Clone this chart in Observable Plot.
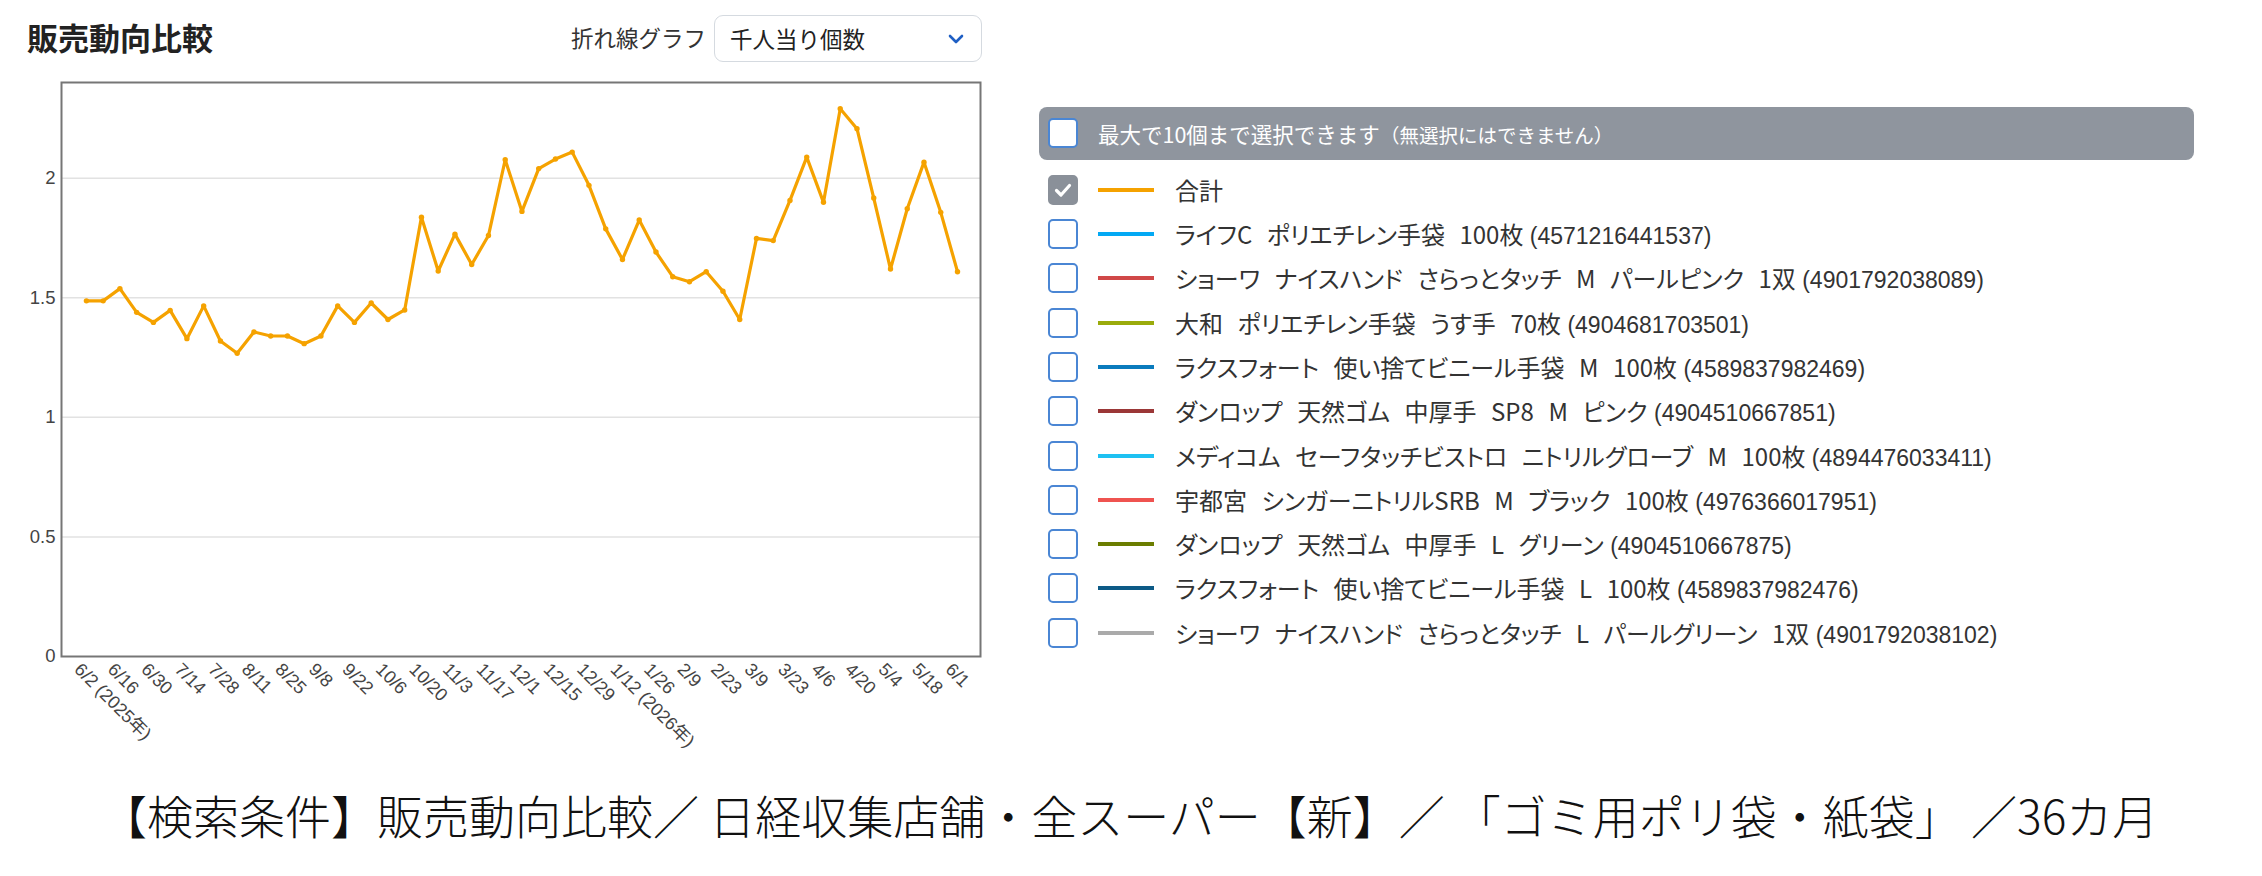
<!DOCTYPE html>
<html lang="ja">
<head>
<meta charset="utf-8">
<script src="https://cdn.jsdelivr.net/npm/d3@7"></script>
<script src="https://cdn.jsdelivr.net/npm/@observablehq/plot@0.6"></script>
<style>
  html, body { margin: 0; padding: 0; background: #fff; }
  body { width: 2262px; height: 876px; position: relative; overflow: hidden;
         font-family: "Noto Sans CJK JP", "Noto Sans", sans-serif; color: #222; }
  .abs { position: absolute; }
  #title { left: 27px; top: 21px; font-size: 31px; font-weight: 700; line-height: 31px; color: #222; white-space: nowrap; }
  #ctlLabel { left: 571px; top: 25px; font-size: 22.5px; line-height: 24px; color: #333; white-space: nowrap; }
  #select { left: 714px; top: 15px; width: 268px; height: 47px; box-sizing: border-box;
            border: 1.5px solid #d5dae0; border-radius: 9px; background: #fff; }
  #select span { position: absolute; left: 15px; top: 10px; font-size: 22.5px; line-height: 24px; color: #222; white-space: nowrap; }
  #select svg { position: absolute; left: 233px; top: 17px; }
  #chart { left: 0; top: 0; }
  #legendHead { left: 1039px; top: 107px; width: 1155px; height: 53px; background: #8f959e; border-radius: 8px; }
  .cb { position: absolute; width: 30px; height: 30px; box-sizing: border-box; border: 2px solid #4a86d4;
        border-radius: 5px; background: #fff; }
  .cb.on { background: #8a9099; border-color: #8a9099; }
  #legendHead .cb { left: 9px; top: 11px; }
  #legendHead .txt { position: absolute; left: 59px; top: 12px; font-size: 21.5px; line-height: 30px; color: #fff; white-space: nowrap; }
  #legendHead .txt small { font-size: 19.5px; }
  .lrow { position: absolute; left: 1048px; height: 30px; width: 1150px; }
  .lrow .cb { left: 0; top: 0; }
  .lrow .sw { position: absolute; left: 50px; top: 13px; width: 56px; height: 4px; }
  .lrow .txt { position: absolute; left: 127px; top: 0; font-size: 24px; line-height: 30px; color: #333; white-space: nowrap;
               font-feature-settings: "palt" 1; }
  .lrow .txt .gap { display: inline-block; width: 14.5px; }
  .lrow .txt .code { font-family: "Liberation Sans", Arial, sans-serif; font-size: 23px; font-feature-settings: normal; }
  #caption { left: 101px; top: 788px; font-size: 46px; line-height: 52px; color: #111; white-space: nowrap; font-weight: 300; }
</style>
</head>
<body>
<div id="title" class="abs">販売動向比較</div>
<div id="ctlLabel" class="abs">折れ線グラフ</div>
<div id="select" class="abs"><span>千人当り個数</span>
  <svg width="16" height="12" viewBox="0 0 16 12"><path d="M2 3 L8 9 L14 3" fill="none" stroke="#1f5fc4" stroke-width="2.6" stroke-linecap="round" stroke-linejoin="round"/></svg>
</div>
<div id="chart" class="abs"></div>
<div id="legendHead" class="abs"><div class="cb"></div><div class="txt">最大で10個まで選択できます<small>（無選択にはできません）</small></div></div>
<div id="legend"></div>
<div id="caption" class="abs">【検索条件】販売動向比較／ 日経収集店舗・全スーパー【新】／ 「ゴミ用ポリ袋・紙袋」 ／36カ月</div>

<script>
// ---- data ----
const weeks = [
  "6/2","6/9","6/16","6/23","6/30","7/7","7/14","7/21","7/28","8/4","8/11","8/18","8/25",
  "9/1","9/8","9/15","9/22","9/29","10/6","10/13","10/20","10/27","11/3","11/10","11/17","11/24",
  "12/1","12/8","12/15","12/22","12/29","1/5","1/12","1/19","1/26","2/2","2/9","2/16","2/23",
  "3/2","3/9","3/16","3/23","3/30","4/6","4/13","4/20","4/27","5/4","5/11","5/18","5/25","6/1"
];
const totalValues = [
  1.487, 1.487, 1.538, 1.439, 1.397, 1.447, 1.329, 1.466, 1.319, 1.268, 1.357, 1.340, 1.340,
  1.308, 1.340, 1.466, 1.397, 1.478, 1.409, 1.449, 1.837, 1.612, 1.766, 1.639, 1.760, 2.077,
  1.861, 2.040, 2.080, 2.109, 1.970, 1.788, 1.660, 1.825, 1.691, 1.588, 1.567, 1.609, 1.527,
  1.409, 1.748, 1.739, 1.907, 2.088, 1.899, 2.290, 2.207, 1.917, 1.620, 1.872, 2.067, 1.857, 1.609
];
const tickWeeks = ["6/2","6/16","6/30","7/14","7/28","8/11","8/25","9/8","9/22","10/6","10/20","11/3","11/17",
  "12/1","12/15","12/29","1/12","1/26","2/9","2/23","3/9","3/23","4/6","4/20","5/4","5/18","6/1"];
const tickLabels = ["6/2 (2025年)","6/16","6/30","7/14","7/28","8/11","8/25","9/8","9/22","10/6","10/20","11/3","11/17",
  "12/1","12/15","12/29","1/12 (2026年)","1/26","2/9","2/23","3/9","3/23","4/6","4/20","5/4","5/18","6/1"];
const yTicks = [0, 0.5, 1, 1.5, 2];
const yTickLabels = ["0", "0.5", "1", "1.5", "2"];
const legendNames = [
  "合計",
  "ライフC　ポリエチレン手袋　100枚",
  "ショーワ　ナイスハンド　さらっとタッチ　M　パールピンク　1双",
  "大和　ポリエチレン手袋　うす手　70枚",
  "ラクスフォート　使い捨てビニール手袋　M　100枚",
  "ダンロップ　天然ゴム　中厚手　SP8　M　ピンク",
  "メディコム　セーフタッチビストロ　ニトリルグローブ　M　100枚",
  "宇都宮　シンガーニトリルSRB　M　ブラック　100枚",
  "ダンロップ　天然ゴム　中厚手　L　グリーン",
  "ラクスフォート　使い捨てビニール手袋　L　100枚",
  "ショーワ　ナイスハンド　さらっとタッチ　L　パールグリーン　1双"
];
const legendCodes = ["", "4571216441537", "4901792038089", "4904681703501", "4589837982469", "4904510667851",
  "4894476033411", "4976366017951", "4904510667875", "4589837982476", "4901792038102"];
const legendColors = ["#f5a200", "#03a9f4", "#d04848", "#9aab0c", "#0a7bbd", "#9b3737",
  "#1ec1f2", "#ef5350", "#6b7d00", "#0d5a86", "#aaaaaa"];
const legendChecked = [true, false, false, false, false, false, false, false, false, false, false];

// ---- chart ----
const data = weeks.map((w, i) => ({week: w, value: totalValues[i]}));
const labelOf = new Map(tickWeeks.map((w, i) => [w, tickLabels[i]]));
const yLabelOf = new Map(yTicks.map((v, i) => [v, yTickLabels[i]]));

const chart = Plot.plot({
  width: 1000,
  height: 766,
  marginLeft: 61,
  marginRight: 20,
  marginTop: 82,
  marginBottom: 110,
  style: {fontFamily: "'Liberation Sans', Arial, 'Noto Sans CJK JP', sans-serif", fontSize: "18px", color: "#444", background: "transparent"},
  x: {type: "point", domain: weeks, padding: 1.43, align: 0.52},
  y: {domain: [0, 2.4]},
  marks: [
    Plot.gridY(yTicks.filter(d => d > 0), {stroke: "#e2e2e2", strokeOpacity: 1, strokeWidth: 1.5}),
    Plot.frame({stroke: "#767676", strokeWidth: 2}),
    Plot.axisY(yTicks, {tickSize: 0, tickPadding: 6, fontSize: 18.5, fill: "#444", label: null,
      tickFormat: d => yLabelOf.get(d)}),
    Plot.axisX(tickWeeks, {tickSize: 0, tickPadding: 10, tickRotate: 45, fontSize: 18, fill: "#444",
      tickFormat: d => labelOf.get(d), label: null, dx: -9}),
    Plot.line(data, {x: "week", y: "value", stroke: "#f5a200", strokeWidth: 3.2, strokeLinejoin: "miter"}),
    Plot.dot(data, {x: "week", y: "value", r: 2.7, fill: "#f5a200"})
  ]
});
document.getElementById("chart").appendChild(chart);

// ---- legend ----
const legend = document.getElementById("legend");
legendNames.forEach((name, i) => {
  const row = document.createElement("div");
  row.className = "lrow";
  row.style.top = (174.7 + 44.3 * i) + "px";
  const cb = document.createElement("div");
  cb.className = "cb" + (legendChecked[i] ? " on" : "");
  if (legendChecked[i]) {
    cb.innerHTML = '<svg width="26" height="26" viewBox="0 0 26 26" style="position:absolute;left:0;top:0"><path d="M6.5 13.5 L11 18 L19.5 8.5" fill="none" stroke="#fff" stroke-width="3.2" stroke-linecap="round" stroke-linejoin="round"/></svg>';
  }
  const sw = document.createElement("div");
  sw.className = "sw";
  sw.style.background = legendColors[i];
  const txt = document.createElement("div");
  txt.className = "txt";
  name.split("　").forEach((part, j) => {
    if (j > 0) {
      const g = document.createElement("span");
      g.className = "gap";
      txt.appendChild(g);
    }
    txt.appendChild(document.createTextNode(part));
  });
  if (legendCodes[i]) {
    const c = document.createElement("span");
    c.className = "code";
    c.textContent = " (" + legendCodes[i] + ")";
    txt.appendChild(c);
  }
  row.appendChild(cb); row.appendChild(sw); row.appendChild(txt);
  legend.appendChild(row);
});
</script>
</body>
</html>
